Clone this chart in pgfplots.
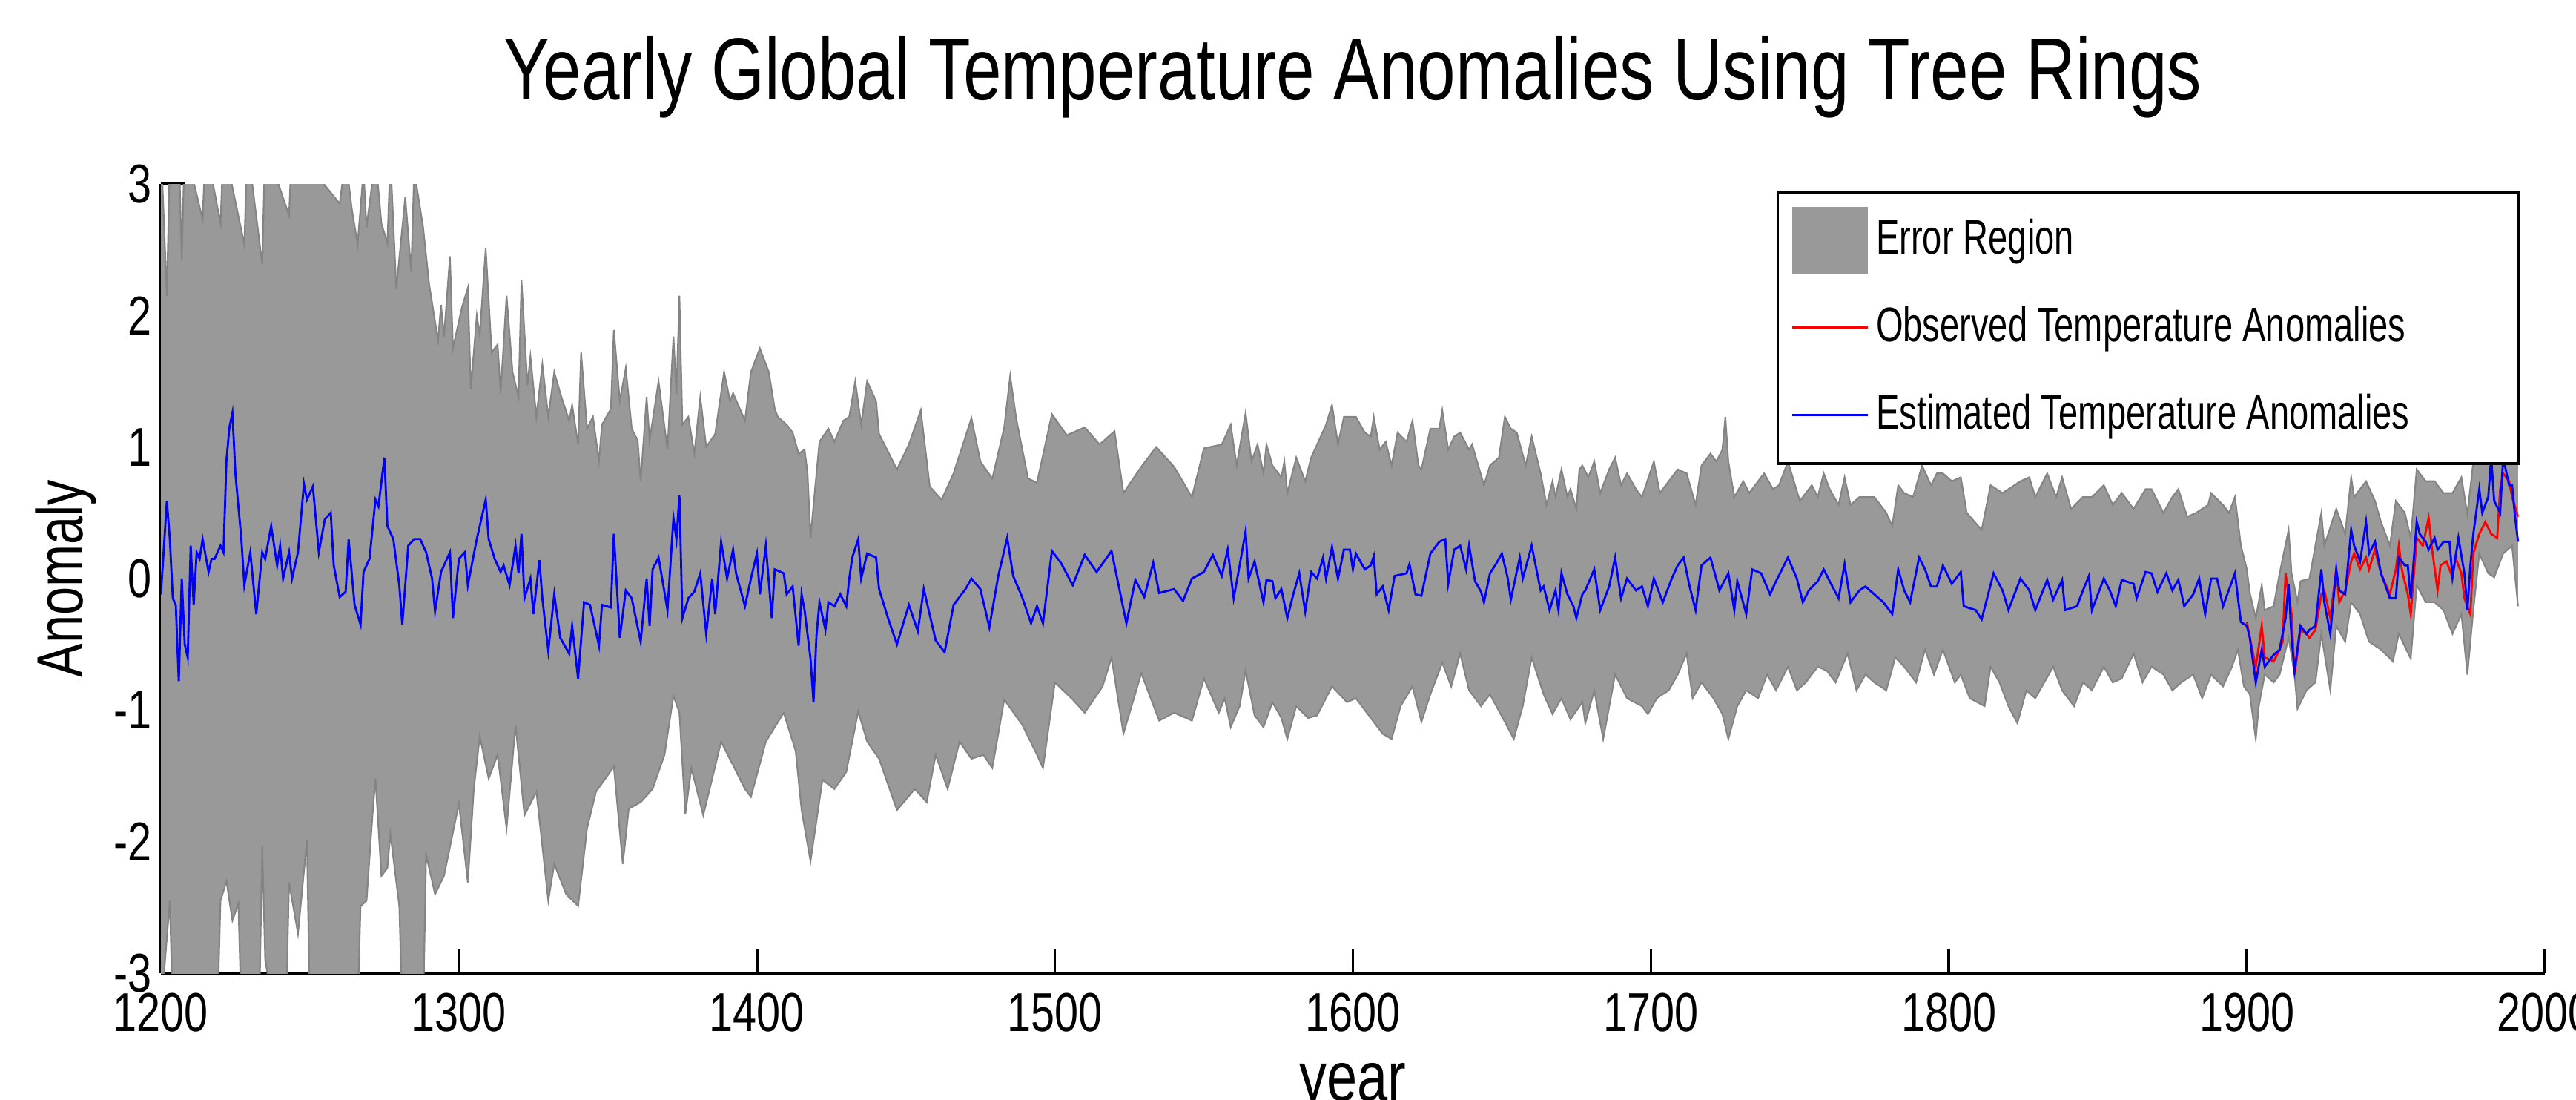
\documentclass[border=0pt]{standalone}
\usepackage{fontspec}
\setmainfont{Liberation Sans}[FakeStretch=0.78]
\newfontfamily\legendfont{Liberation Sans}[FakeStretch=0.72]
\usepackage{pgfplots}
\pgfplotsset{compat=1.18}
\usepgfplotslibrary{fillbetween}

\definecolor{errgray}{RGB}{153,153,153}
\definecolor{edgegray}{RGB}{132,132,132}
\newcommand{\entry}[1]{\makebox[4.19cm][l]{#1}}

\begin{document}
\begin{tikzpicture}
\begin{axis}[
    at={(1.085cm,0.85cm)}, anchor=south west,
    scale only axis,
    width=16.075cm, height=5.32cm,
    xmin=1200, xmax=2000, ymin=-3, ymax=3,
    xtick={1200,1300,...,2000},
    ytick={-3,-2,...,3},
    axis x line=bottom, axis y line=left,
    axis line style={-, black, line width=0.5pt},
    tick align=inside,
    major tick length=0.16cm,
    tick style={black, line width=0.5pt},
    /pgf/number format/assume math mode=true,
    /pgf/number format/1000 sep={},
    tick label style={font=\fontsize{10.5}{12}\selectfont},
    xticklabel style={anchor=north, inner sep=0pt, yshift=-0.13cm},
    yticklabel style={anchor=east, inner sep=0pt, xshift=-0.055cm},
    title={Yearly Global Temperature Anomalies Using Tree Rings},
    title style={font=\fontsize{16.9}{19}\selectfont, anchor=base,
        at={(axis description cs:0.5,1.0667)}},
    xlabel={year},
    xlabel style={font=\fontsize{13.5}{16}\selectfont, anchor=base,
        at={(axis description cs:0.5,-0.1617)}},
    ylabel={Anomaly},
    ylabel style={font=\fontsize{12.5}{15}\selectfont, anchor=center,
        at={(axis description cs:-0.0398,0.5)}},
    legend image code/.code={\draw[#1] (0cm,0cm) -- (0.51cm,0cm);},
    legend cell align=left,
    legend style={at={(0.9894,0.9915)}, anchor=north east,
        draw=black, fill=white, line width=0.5pt,
        inner xsep=0.09cm, inner ysep=0.06cm, row sep=0.06cm,
        font=\legendfont\fontsize{9.3}{11}\selectfont,
        nodes={text height=0.26cm, text depth=0.07cm, inner ysep=0.1cm, inner xsep=0.05cm}},
]

% upper edge of the error band
\addplot[name path=upper, draw=edgegray, line width=0.3pt, forget plot] coordinates {
(1200,3.3) (1202,2.15) (1203,3.2) (1206,3.3) (1207,2.42) (1208,3.3) (1214,2.73) (1215,3.3)
(1220,2.7) (1221,3.3) (1228,2.54) (1229,3.3) (1234,2.39) (1235,3.3) (1243,2.76) (1244,3.3)
(1260,2.85) (1262,3.2) (1264,2.82) (1266,2.54) (1268,3.1) (1269,2.67) (1272,3.2) (1274,2.7)
(1276,2.55) (1277,3.2) (1279,2.2) (1282,2.9) (1284,2.33) (1285,3.1) (1288,2.67) (1290,2.24)
(1293,1.81) (1294,2.08) (1295,1.84) (1297,2.45) (1298,1.75) (1301,2.06) (1303,2.21) (1304,1.44)
(1306,2.0) (1307,1.85) (1309,2.51) (1311,1.72) (1313,1.78) (1314,1.41) (1316,2.15) (1318,1.57)
(1320,1.38) (1321,2.27) (1323,1.47) (1324,1.69) (1326,1.23) (1328,1.63) (1330,1.23) (1332,1.57)
(1334,1.41) (1337,1.2) (1338,1.32) (1340,1.02) (1341,1.72) (1343,1.14) (1345,1.23) (1347,0.89)
(1348,1.17) (1351,1.29) (1352,1.89) (1354,1.35) (1356,1.6) (1358,1.14) (1360,1.05) (1361,0.74)
(1363,1.38) (1364,1.05) (1367,1.5) (1370,0.98) (1372,1.84) (1373,1.4) (1374,2.15) (1375,1.17)
(1377,1.23) (1379,0.95) (1381,1.38) (1383,1.0) (1386,1.1) (1389,1.57) (1391,1.35) (1392,1.41)
(1396,1.2) (1398,1.57) (1401,1.75) (1404,1.57) (1406,1.29) (1407,1.23) (1410,1.17) (1412,1.11)
(1414,0.95) (1416,0.98) (1417,0.8) (1418,0.31) (1420,0.8) (1421,1.04) (1424,1.14) (1426,1.04)
(1429,1.2) (1431,1.23) (1433,1.5) (1435,1.17) (1437,1.5) (1440,1.35) (1441,1.1) (1447,0.83)
(1451,1.02) (1455,1.28) (1458,0.7) (1462,0.6) (1466,0.8) (1472,1.22) (1475,0.89) (1479,0.76)
(1483,1.15) (1485,1.54) (1487,1.22) (1491,0.76) (1494,0.73) (1499,1.25) (1504,1.09) (1510,1.15)
(1515,1.02) (1520,1.12) (1523,0.65) (1529,0.85) (1534,1.0) (1540,0.85) (1546,0.62) (1550,0.99)
(1556,1.02) (1559,1.17) (1561,0.86) (1564,1.26) (1566,0.89) (1568,1.02) (1570,0.8) (1571,1.02)
(1573,0.86) (1576,0.77) (1577,0.89) (1578,0.65) (1581,0.92) (1584,0.74) (1586,0.92) (1588,1.02)
(1591,1.17) (1593,1.32) (1595,1.02) (1597,1.23) (1599,1.23) (1601,1.23) (1604,1.11) (1606,1.08)
(1607,1.23) (1609,0.98) (1611,1.04) (1613,0.86) (1615,1.11) (1618,1.04) (1620,1.2) (1622,0.86)
(1623,0.83) (1626,1.14) (1629,1.14) (1630,1.28) (1632,0.98) (1634,1.08) (1636,1.11) (1639,0.98)
(1640,1.02) (1644,0.71) (1646,0.86) (1649,0.92) (1651,1.23) (1653,1.14) (1655,1.11) (1658,0.86)
(1660,1.08) (1663,0.8) (1665,0.56) (1667,0.74) (1668,0.62) (1670,0.83) (1672,0.62) (1673,0.68)
(1675,0.53) (1676,0.83) (1677,0.86) (1679,0.77) (1681,0.89) (1683,0.65) (1686,0.83) (1688,0.92)
(1690,0.71) (1692,0.8) (1695,0.68) (1697,0.62) (1701,0.89) (1703,0.65) (1706,0.74) (1709,0.83)
(1712,0.8) (1715,0.56) (1717,0.86) (1720,0.95) (1722,0.89) (1724,0.98) (1725,1.23) (1726,0.89)
(1728,0.62) (1731,0.74) (1733,0.65) (1736,0.74) (1738,0.8) (1741,0.68) (1743,0.71) (1746,0.89)
(1748,0.74) (1750,0.59) (1754,0.71) (1756,0.62) (1758,0.8) (1760,0.68) (1763,0.56) (1765,0.77)
(1767,0.56) (1770,0.62) (1773,0.62) (1775,0.62) (1779,0.5) (1781,0.4) (1783,0.71) (1785,0.65)
(1788,0.62) (1791,0.86) (1794,0.71) (1796,0.8) (1798,0.8) (1801,0.74) (1804,0.77) (1806,0.5)
(1811,0.37) (1814,0.71) (1818,0.65) (1822,0.71) (1824,0.74) (1827,0.77) (1829,0.62) (1833,0.8)
(1836,0.62) (1838,0.77) (1841,0.53) (1845,0.62) (1848,0.62) (1852,0.71) (1855,0.56) (1858,0.65)
(1862,0.53) (1866,0.68) (1868,0.68) (1872,0.5) (1875,0.62) (1877,0.68) (1880,0.47) (1883,0.5)
(1887,0.56) (1888,0.65) (1892,0.56) (1894,0.5) (1896,0.62) (1898,0.25) (1900,0.07) (1901,-0.11)
(1903,-0.3) (1905,-0.05) (1906,-0.24) (1909,-0.21) (1911,0.04) (1914,0.37) (1915,0.04) (1917,-0.18)
(1918,-0.02) (1921,0.0) (1925,0.5) (1926,0.25) (1930,0.53) (1933,0.34) (1935,0.77) (1936,0.62)
(1940,0.74) (1943,0.59) (1945,0.43) (1948,0.25) (1950,0.59) (1953,0.5) (1955,0.31) (1957,0.83)
(1960,0.74) (1963,0.74) (1966,0.65) (1969,0.65) (1972,0.77) (1974,0.49) (1976,0.89) (1978,1.0)
(1981,0.98) (1983,1.0) (1986,0.98) (1989,0.92) (1991,0.89)
};

% lower edge of the error band
\addplot[name path=lower, draw=edgegray, line width=0.3pt, forget plot] coordinates {
(1200,-3.3) (1203,-2.45) (1204,-3.3) (1219,-3.3) (1220,-2.45) (1222,-2.3) (1224,-2.6) (1226,-2.47)
(1227,-3.3) (1233,-3.3) (1234,-2.03) (1235,-2.9) (1238,-3.3) (1242,-3.3) (1243,-2.31) (1246,-2.7)
(1249,-1.99) (1250,-3.3) (1266,-3.3) (1267,-2.49) (1269,-2.45) (1271,-1.8) (1272,-1.52) (1274,-2.26)
(1276,-2.2) (1277,-1.94) (1280,-2.49) (1281,-3.3) (1288,-3.3) (1289,-2.1) (1292,-2.4) (1295,-2.26)
(1300,-1.71) (1303,-2.31) (1305,-1.6) (1307,-1.2) (1310,-1.52) (1313,-1.34) (1316,-1.9) (1319,-1.11)
(1322,-1.8) (1326,-1.62) (1330,-2.45) (1332,-2.17) (1336,-2.4) (1340,-2.49) (1343,-1.9) (1346,-1.62)
(1352,-1.43) (1355,-2.17) (1357,-1.75) (1361,-1.7) (1365,-1.6) (1369,-1.34) (1372,-0.89) (1374,-1.02)
(1376,-1.79) (1378,-1.44) (1382,-1.8) (1388,-1.24) (1396,-1.6) (1398,-1.66) (1403,-1.24) (1409,-1.02)
(1413,-1.31) (1415,-1.76) (1418,-2.15) (1422,-1.53) (1426,-1.6) (1430,-1.47) (1434,-1.01) (1437,-1.24)
(1441,-1.37) (1447,-1.76) (1453,-1.6) (1457,-1.7) (1460,-1.34) (1464,-1.6) (1468,-1.24) (1472,-1.37)
(1476,-1.34) (1479,-1.44) (1483,-0.92) (1489,-1.11) (1494,-1.34) (1496,-1.44) (1500,-0.79) (1506,-0.92)
(1510,-1.02) (1516,-0.82) (1519,-0.6) (1523,-1.18) (1529,-0.72) (1535,-1.08) (1540,-1.02) (1546,-1.08)
(1550,-0.76) (1555,-1.02) (1557,-0.91) (1559,-1.13) (1562,-0.97) (1564,-0.7) (1567,-1.04) (1570,-1.13)
(1573,-0.94) (1576,-1.06) (1578,-1.22) (1581,-0.97) (1585,-1.06) (1588,-1.04) (1593,-0.82) (1598,-0.94)
(1601,-0.91) (1606,-1.06) (1610,-1.18) (1613,-1.22) (1616,-0.97) (1620,-0.82) (1623,-1.09) (1626,-0.88)
(1630,-0.64) (1633,-0.82) (1636,-0.57) (1639,-0.85) (1643,-0.97) (1646,-0.88) (1651,-1.09) (1654,-1.22)
(1657,-0.97) (1660,-0.6) (1664,-0.88) (1667,-1.03) (1670,-0.91) (1673,-1.07) (1677,-0.94) (1678,-1.1)
(1681,-0.85) (1684,-1.22) (1688,-0.73) (1692,-0.91) (1697,-0.97) (1699,-1.03) (1702,-0.91) (1706,-0.85)
(1709,-0.73) (1712,-0.57) (1714,-0.91) (1717,-0.79) (1721,-0.91) (1724,-1.03) (1726,-1.22) (1729,-0.97)
(1732,-0.85) (1736,-0.91) (1739,-0.73) (1742,-0.85) (1746,-0.67) (1749,-0.85) (1752,-0.79) (1756,-0.67)
(1759,-0.7) (1762,-0.79) (1766,-0.57) (1769,-0.85) (1772,-0.73) (1775,-0.79) (1779,-0.85) (1782,-0.6)
(1785,-0.67) (1789,-0.79) (1792,-0.54) (1795,-0.73) (1798,-0.54) (1802,-0.79) (1804,-0.73) (1807,-0.91)
(1812,-0.97) (1814,-0.67) (1817,-0.79) (1820,-0.97) (1823,-1.1) (1826,-0.85) (1829,-0.91) (1832,-0.79)
(1835,-0.67) (1838,-0.85) (1842,-0.97) (1845,-0.79) (1848,-0.85) (1852,-0.67) (1855,-0.79) (1858,-0.76)
(1862,-0.57) (1865,-0.79) (1868,-0.67) (1872,-0.73) (1875,-0.85) (1878,-0.79) (1882,-0.73) (1885,-0.91)
(1888,-0.73) (1892,-0.82) (1895,-0.67) (1897,-0.54) (1899,-0.82) (1901,-0.88) (1903,-1.22) (1904,-0.97)
(1906,-0.73) (1909,-0.79) (1911,-0.73) (1914,-0.45) (1916,-0.73) (1917,-0.99) (1920,-0.85) (1923,-0.79)
(1925,-0.42) (1928,-0.85) (1930,-0.36) (1933,-0.48) (1935,-0.18) (1938,-0.27) (1941,-0.48) (1945,-0.54)
(1949,-0.63) (1951,-0.42) (1955,-0.61) (1957,-0.05) (1960,-0.18) (1963,-0.18) (1966,-0.24) (1969,-0.42)
(1972,-0.27) (1974,-0.73) (1976,-0.24) (1978,0.19) (1981,0.04) (1983,0.01) (1986,0.19) (1989,0.25)
(1991,-0.21)
};

\addplot[fill=errgray, draw=none,
    legend image code/.code={\fill[errgray] (0cm,-0.225cm) rectangle (0.51cm,0.225cm);}]
    fill between[of=upper and lower];
\addlegendentry{\entry{Error Region}}

% observed
\addplot[color=red, line width=0.4pt] coordinates {
(1900,-0.33) (1901,-0.45) (1903,-0.67) (1905,-0.36) (1906,-0.6) (1909,-0.63) (1911,-0.54) (1912,-0.48)
(1913,0.04) (1915,-0.27) (1916,-0.73) (1918,-0.39) (1920,-0.42) (1921,-0.45) (1923,-0.39) (1925,-0.12)
(1926,-0.09) (1928,-0.3) (1930,0.07) (1931,-0.18) (1933,-0.09) (1935,0.13) (1936,0.19) (1938,0.07)
(1940,0.16) (1941,0.07) (1943,0.22) (1945,0.04) (1948,-0.12) (1950,0.07) (1951,0.25) (1952,0.07)
(1954,-0.12) (1955,-0.27) (1957,0.31) (1959,0.25) (1961,0.46) (1962,0.25) (1964,-0.09) (1965,0.1)
(1967,0.13) (1969,0.01) (1970,0.16) (1972,0.04) (1973,-0.15) (1975,-0.27) (1976,0.19) (1978,0.34)
(1980,0.43) (1982,0.34) (1984,0.31) (1985,0.68) (1986,0.8) (1988,0.74) (1989,0.62) (1991,0.47)
};
\addlegendentry{\entry{Observed Temperature Anomalies}}

% estimated
\addplot[color=blue, line width=0.4pt] coordinates {
(1200,-0.12) (1202,0.59) (1203,0.3) (1204,-0.15) (1205,-0.2) (1206,-0.78) (1207,0.0) (1208,-0.5)
(1209,-0.6) (1210,0.25) (1211,-0.2) (1212,0.2) (1213,0.15) (1214,0.3) (1216,0.05) (1217,0.15)
(1218,0.15) (1220,0.25) (1221,0.2) (1222,0.9) (1223,1.15) (1224,1.26) (1225,0.8) (1227,0.3)
(1228,-0.05) (1230,0.2) (1232,-0.27) (1234,0.2) (1235,0.15) (1237,0.4) (1239,0.1) (1240,0.25)
(1241,0.0) (1243,0.2) (1244,0.0) (1246,0.2) (1248,0.72) (1249,0.6) (1251,0.7) (1253,0.2)
(1255,0.45) (1257,0.5) (1258,0.1) (1260,-0.14) (1262,-0.1) (1263,0.3) (1265,-0.2) (1267,-0.35)
(1268,0.05) (1270,0.15) (1272,0.6) (1273,0.55) (1275,0.92) (1276,0.4) (1278,0.3) (1280,-0.05)
(1281,-0.35) (1283,0.25) (1285,0.3) (1287,0.3) (1289,0.2) (1291,0.0) (1292,-0.25) (1294,0.05)
(1297,0.2) (1298,-0.3) (1300,0.15) (1302,0.2) (1303,-0.05) (1306,0.3) (1307,0.4) (1309,0.6)
(1310,0.3) (1312,0.15) (1314,0.05) (1315,0.1) (1317,-0.05) (1319,0.25) (1320,0.04) (1321,0.34)
(1322,-0.15) (1324,0.0) (1325,-0.27) (1327,0.14) (1328,-0.15) (1330,-0.55) (1332,-0.12) (1334,-0.45)
(1337,-0.57) (1338,-0.36) (1340,-0.76) (1342,-0.18) (1344,-0.2) (1347,-0.51) (1348,-0.2) (1351,-0.22)
(1352,0.34) (1354,-0.45) (1356,-0.09) (1358,-0.15) (1361,-0.48) (1363,0.0) (1364,-0.36) (1365,0.07)
(1367,0.16) (1370,-0.24) (1372,0.46) (1373,0.3) (1374,0.63) (1375,-0.3) (1377,-0.15) (1379,-0.1)
(1381,0.04) (1383,-0.42) (1385,0.0) (1386,-0.27) (1388,0.28) (1390,0.0) (1392,0.22) (1393,0.04)
(1396,-0.21) (1398,0.0) (1400,0.19) (1401,-0.12) (1403,0.25) (1405,-0.3) (1406,0.07) (1409,0.04)
(1410,-0.12) (1412,-0.06) (1414,-0.51) (1415,-0.12) (1416,-0.24) (1418,-0.61) (1419,-0.94) (1420,-0.43)
(1421,-0.18) (1423,-0.39) (1424,-0.18) (1426,-0.21) (1428,-0.12) (1430,-0.21) (1431,0.0) (1432,0.16)
(1434,0.3) (1435,0.0) (1437,0.19) (1440,0.16) (1441,-0.08) (1444,-0.3) (1447,-0.5) (1451,-0.2)
(1454,-0.4) (1456,-0.08) (1460,-0.47) (1463,-0.56) (1466,-0.2) (1470,-0.08) (1472,0.0) (1475,-0.08)
(1478,-0.37) (1481,0.02) (1484,0.31) (1486,0.02) (1489,-0.14) (1492,-0.34) (1494,-0.21) (1496,-0.34)
(1499,0.21) (1502,0.12) (1506,-0.05) (1510,0.18) (1514,0.05) (1519,0.21) (1524,-0.34) (1527,-0.01)
(1530,-0.14) (1533,0.12) (1535,-0.11) (1540,-0.08) (1543,-0.17) (1546,0.0) (1550,0.05) (1553,0.18)
(1556,0.02) (1558,0.22) (1560,-0.15) (1562,0.1) (1564,0.36) (1565,0.0) (1567,0.13) (1570,-0.18)
(1571,-0.01) (1573,-0.02) (1574,-0.15) (1576,-0.08) (1578,-0.3) (1580,-0.12) (1582,0.04) (1584,-0.25)
(1586,0.05) (1588,0.0) (1590,0.16) (1591,0.0) (1593,0.24) (1595,0.0) (1597,0.22) (1599,0.22)
(1600,0.07) (1601,0.19) (1604,0.07) (1606,0.1) (1607,0.17) (1608,-0.12) (1610,-0.06) (1612,-0.24)
(1614,0.02) (1618,0.04) (1619,0.11) (1621,-0.12) (1623,-0.13) (1626,0.19) (1627,0.22) (1629,0.28)
(1631,0.3) (1632,-0.04) (1634,0.22) (1636,0.25) (1638,0.07) (1639,0.25) (1641,-0.02) (1643,-0.1)
(1644,-0.18) (1646,0.04) (1648,0.11) (1650,0.19) (1652,0.0) (1653,-0.16) (1656,0.16) (1657,0.0)
(1660,0.25) (1663,-0.09) (1664,-0.06) (1666,-0.24) (1668,-0.09) (1669,-0.24) (1670,0.04) (1672,-0.12)
(1674,-0.21) (1675,-0.3) (1677,-0.12) (1678,-0.09) (1681,0.07) (1683,-0.24) (1686,-0.06) (1688,0.16)
(1690,-0.15) (1692,0.0) (1695,-0.09) (1697,-0.06) (1699,-0.21) (1701,0.0) (1704,-0.18) (1707,0.0)
(1709,0.1) (1711,0.16) (1713,-0.06) (1715,-0.24) (1717,0.1) (1720,0.16) (1723,-0.09) (1726,0.04)
(1728,-0.24) (1729,-0.02) (1732,-0.27) (1734,0.07) (1737,0.04) (1740,-0.12) (1742,-0.02) (1746,0.16)
(1749,0.0) (1751,-0.18) (1753,-0.09) (1756,-0.02) (1758,0.07) (1760,-0.02) (1763,-0.15) (1765,0.11)
(1767,-0.18) (1770,-0.09) (1772,-0.06) (1775,-0.12) (1778,-0.18) (1781,-0.27) (1783,0.07) (1785,-0.09)
(1787,-0.18) (1790,0.16) (1792,0.07) (1794,-0.06) (1796,-0.06) (1798,0.1) (1801,-0.04) (1804,0.05)
(1805,-0.21) (1809,-0.24) (1811,-0.31) (1815,0.04) (1818,-0.09) (1820,-0.24) (1824,0.0) (1827,-0.09)
(1829,-0.24) (1833,-0.01) (1835,-0.16) (1838,-0.01) (1839,-0.24) (1843,-0.21) (1845,-0.09) (1847,0.02)
(1848,-0.24) (1852,0.0) (1854,-0.09) (1856,-0.21) (1858,-0.01) (1862,-0.04) (1863,-0.15) (1866,0.05)
(1868,0.04) (1870,-0.1) (1873,0.04) (1875,-0.09) (1877,-0.01) (1879,-0.21) (1882,-0.12) (1884,0.0)
(1886,-0.27) (1888,0.0) (1890,0.0) (1892,-0.21) (1896,0.04) (1898,-0.33) (1900,-0.36) (1901,-0.45)
(1903,-0.79) (1905,-0.54) (1906,-0.67) (1909,-0.58) (1911,-0.54) (1913,-0.3) (1914,-0.04) (1915,-0.45)
(1916,-0.7) (1918,-0.36) (1920,-0.42) (1921,-0.39) (1923,-0.36) (1925,0.07) (1926,-0.18) (1928,-0.42)
(1930,0.07) (1931,-0.09) (1933,-0.12) (1935,0.37) (1936,0.25) (1938,0.13) (1940,0.43) (1941,0.19)
(1943,0.28) (1945,0.04) (1946,-0.02) (1948,-0.15) (1950,-0.15) (1951,0.16) (1953,0.1) (1954,0.1)
(1955,-0.15) (1957,0.43) (1958,0.34) (1960,0.28) (1961,0.22) (1963,0.31) (1964,0.22) (1966,0.28)
(1968,0.28) (1969,0.01) (1971,0.31) (1973,0.04) (1974,-0.24) (1975,0.1) (1976,0.34) (1978,0.68)
(1979,0.5) (1981,0.62) (1982,0.92) (1983,0.59) (1985,0.5) (1986,0.92) (1988,0.71) (1989,0.71)
(1990,0.47) (1991,0.28)
};
\addlegendentry{\entry{Estimated Temperature Anomalies}}

\end{axis}
\pgfresetboundingbox
\path[use as bounding box] (0,0) rectangle (17.37,7.41);
\end{tikzpicture}
\end{document}
